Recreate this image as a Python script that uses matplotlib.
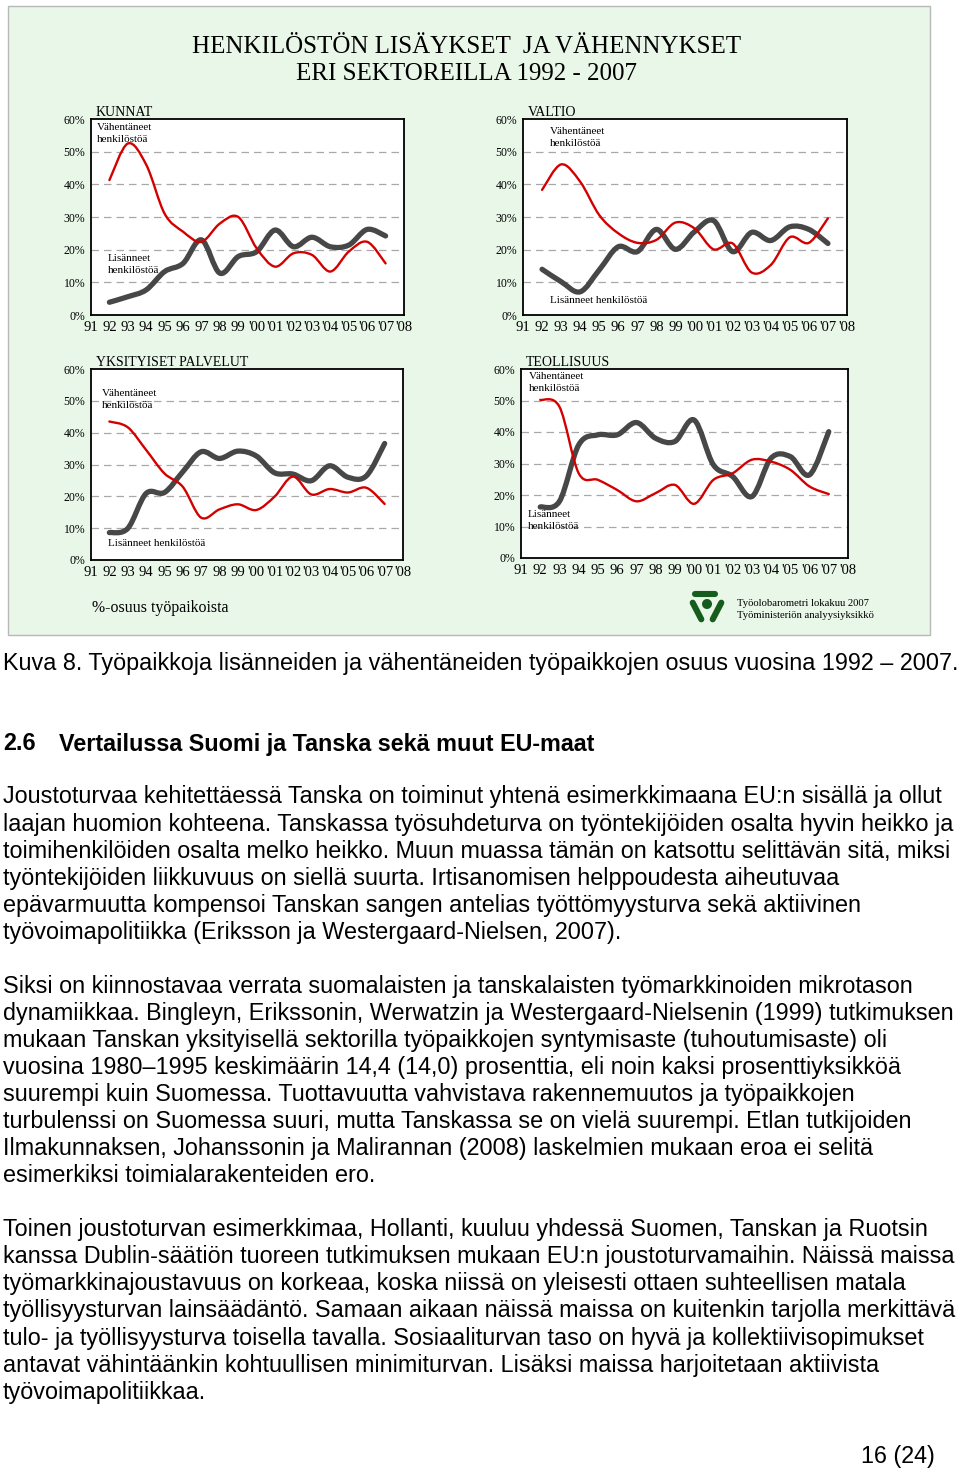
import matplotlib
matplotlib.use("Agg")
import matplotlib.pyplot as plt
from matplotlib.path import Path
from matplotlib.patches import PathPatch, Rectangle, Circle

# ---------------------------------------------------------------------------
# Data (share of workplaces, %)
# ---------------------------------------------------------------------------
years = list(range(1992, 2008))
x_tick_years = list(range(1991, 2009))
x_tick_labels = ["91", "92", "93", "94", "95", "96", "97", "98", "99",
                 "'00", "'01", "'02", "'03", "'04", "'05", "'06", "'07", "'08"]
y_ticks = [0, 10, 20, 30, 40, 50, 60]

kunnat_vahent = [41.3, 52.5, 46.0, 31.0, 25.5, 22.4, 28.0, 30.0,
                 20.4, 14.8, 18.9, 18.4, 13.3, 19.4, 22.4, 15.8]
kunnat_lisann = [3.9, 5.6, 7.7, 13.3, 15.8, 23.0, 12.8, 17.9,
                 19.4, 26.0, 20.9, 23.8, 20.9, 21.4, 26.2, 24.2]

valtio_vahent = [38.3, 46.1, 40.8, 30.6, 25.0, 22.1, 23.0, 28.3,
                 26.5, 20.1, 21.9, 13.0, 15.3, 23.8, 22.1, 29.6]
valtio_lisann = [14.0, 10.2, 7.1, 13.8, 20.9, 19.4, 26.2, 20.1,
                 25.5, 28.9, 19.4, 25.3, 22.8, 27.0, 26.2, 21.9]

yks_vahent = [43.5, 41.7, 34.6, 27.2, 23.0, 13.3, 15.9, 17.5,
              15.7, 19.9, 26.2, 20.6, 22.3, 21.2, 22.7, 17.6]
yks_lisann = [8.6, 9.9, 20.9, 21.2, 27.7, 34.0, 31.9, 34.2,
              32.7, 27.4, 27.0, 24.9, 29.6, 26.0, 26.4, 36.6]

teol_vahent = [50.2, 48.0, 26.9, 24.8, 21.6, 18.0, 20.6, 23.2,
               17.2, 24.8, 26.9, 31.2, 30.6, 28.0, 22.7, 20.3]
teol_lisann = [16.2, 18.0, 35.9, 39.1, 39.1, 43.0, 38.0, 37.0,
               43.8, 29.6, 25.9, 19.5, 31.7, 32.2, 26.4, 40.1]

body_lines = [
    "Joustoturvaa kehitettäessä Tanska on toiminut yhtenä esimerkkimaana EU:n sisällä ja ollut",
    "laajan huomion kohteena. Tanskassa työsuhdeturva on työntekijöiden osalta hyvin heikko ja",
    "toimihenkilöiden osalta melko heikko. Muun muassa tämän on katsottu selittävän sitä, miksi",
    "työntekijöiden liikkuvuus on siellä suurta. Irtisanomisen helppoudesta aiheutuvaa",
    "epävarmuutta kompensoi Tanskan sangen antelias työttömyysturva sekä aktiivinen",
    "työvoimapolitiikka (Eriksson ja Westergaard-Nielsen, 2007).",
    "",
    "Siksi on kiinnostavaa verrata suomalaisten ja tanskalaisten työmarkkinoiden mikrotason",
    "dynamiikkaa. Bingleyn, Erikssonin, Werwatzin ja Westergaard-Nielsenin (1999) tutkimuksen",
    "mukaan Tanskan yksityisellä sektorilla työpaikkojen syntymisaste (tuhoutumisaste) oli",
    "vuosina 1980–1995 keskimäärin 14,4 (14,0) prosenttia, eli noin kaksi prosenttiyksikköä",
    "suurempi kuin Suomessa. Tuottavuutta vahvistava rakennemuutos ja työpaikkojen",
    "turbulenssi on Suomessa suuri, mutta Tanskassa se on vielä suurempi. Etlan tutkijoiden",
    "Ilmakunnaksen, Johanssonin ja Malirannan (2008) laskelmien mukaan eroa ei selitä",
    "esimerkiksi toimialarakenteiden ero.",
    "",
    "Toinen joustoturvan esimerkkimaa, Hollanti, kuuluu yhdessä Suomen, Tanskan ja Ruotsin",
    "kanssa Dublin-säätiön tuoreen tutkimuksen mukaan EU:n joustoturvamaihin. Näissä maissa",
    "työmarkkinajoustavuus on korkeaa, koska niissä on yleisesti ottaen suhteellisen matala",
    "työllisyysturvan lainsäädäntö. Samaan aikaan näissä maissa on kuitenkin tarjolla merkittävä",
    "tulo- ja työllisyysturva toisella tavalla. Sosiaaliturvan taso on hyvä ja kollektiivisopimukset",
    "antavat vähintäänkin kohtuullisen minimiturvan. Lisäksi maissa harjoitetaan aktiivista",
    "työvoimapolitiikkaa.",
]

# ---------------------------------------------------------------------------
# Layout helpers (pixel coordinates from the top-left corner)
# ---------------------------------------------------------------------------
W, H = 960, 1470
SERIF = ["Liberation Serif", "DejaVu Serif"]
SANS = ["Liberation Sans", "DejaVu Sans"]
RED = "#d40000"
GRAY = "#474747"
PANEL = "#e9f7e9"
LOGO = "#165c1c"
BODY_FS = 16.8

fig = plt.figure(figsize=(W / 100, H / 100), dpi=100, facecolor="white")


def fx(x):
    return x / W


def fy(y):
    return 1 - y / H


def ptext(x, y, s, **kw):
    fig.text(fx(x), fy(y), s, **kw)


def smooth_path(xs, ys):
    """Bezier path through the points, like Excel's smoothed line."""
    pts = list(zip(xs, ys))
    verts = [pts[0]]
    codes = [Path.MOVETO]
    n = len(pts)
    for i in range(n - 1):
        p0 = pts[i - 1] if i > 0 else pts[i]
        p1 = pts[i]
        p2 = pts[i + 1]
        p3 = pts[i + 2] if i + 2 < n else pts[i + 1]
        c1 = (p1[0] + (p2[0] - p0[0]) / 6, p1[1] + (p2[1] - p0[1]) / 6)
        c2 = (p2[0] - (p3[0] - p1[0]) / 6, p2[1] - (p3[1] - p1[1]) / 6)
        verts += [c1, c2, p2]
        codes += [Path.CURVE4] * 3
    return Path(verts, codes)


# panel background, kept behind the axes
fig.patches.append(Rectangle((fx(8), fy(635)), fx(930) - fx(8), fy(6) - fy(635),
                             transform=fig.transFigure, facecolor=PANEL,
                             edgecolor="#b8b8b8", lw=1.0, zorder=-5))

ptext(467, 47, "HENKILÖSTÖN LISÄYKSET  JA VÄHENNYKSET", ha="center", va="center",
      fontsize=18, family=SERIF)
ptext(467, 74, "ERI SEKTOREILLA 1992 - 2007", ha="center", va="center",
      fontsize=18, family=SERIF)

panels = [
    # title, box (left, top, right, bottom), reds, grays, label positions
    ("KUNNAT", (91, 119, 404, 315), kunnat_vahent, kunnat_lisann,
     (97, 123, "Vähentäneet\nhenkilöstöä"), (108, 254, "Lisänneet\nhenkilöstöä")),
    ("VALTIO", (523, 119, 847, 315), valtio_vahent, valtio_lisann,
     (550, 127, "Vähentäneet\nhenkilöstöä"), (550, 296, "Lisänneet henkilöstöä")),
    ("YKSITYISET PALVELUT", (91, 369, 403, 560), yks_vahent, yks_lisann,
     (102, 389, "Vähentäneet\nhenkilöstöä"), (108, 539, "Lisänneet henkilöstöä")),
    ("TEOLLISUUS", (521, 369, 848, 558), teol_vahent, teol_lisann,
     (529, 372, "Vähentäneet\nhenkilöstöä"), (528, 510, "Lisänneet\nhenkilöstöä")),
]

for title, (l, t, r, b), reds, grays, lab_v, lab_l in panels:
    ax = fig.add_axes([fx(l), fy(b), fx(r) - fx(l), fy(t) - fy(b)])
    ax.set_facecolor("white")
    ax.set_xlim(1991, 2008)
    ax.set_ylim(0, 60)
    for s in ax.spines.values():
        s.set_color("black")
        s.set_linewidth(1.3)
    for g in y_ticks[1:-1]:
        ax.axhline(g, color="#a8a8a8", lw=0.9, ls=(0, (6, 4)), zorder=1)
    ax.add_patch(PathPatch(smooth_path(years, grays), fill=False, edgecolor=GRAY,
                           lw=3.8, capstyle="round", joinstyle="round", zorder=3))
    ax.add_patch(PathPatch(smooth_path(years, reds), fill=False, edgecolor=RED,
                           lw=1.7, capstyle="round", joinstyle="round", zorder=4))
    ax.set_xticks(x_tick_years)
    ax.set_xticklabels(x_tick_labels, family=SERIF, fontsize=10.5)
    ax.set_yticks(y_ticks)
    ax.set_yticklabels([f"{v}%" for v in y_ticks], family=SERIF, fontsize=8.5)
    ax.tick_params(length=0, pad=4)
    ax.tick_params(axis="x", pad=4)
    ptext(l + 5, t - 3, title, ha="left", va="baseline", fontsize=10, family=SERIF)
    for x, y, s in (lab_v, lab_l):
        ptext(x, y, s, ha="left", va="top", fontsize=8, family=SERIF,
              linespacing=1.45, zorder=6)

ptext(92, 608, "%-osuus työpaikoista", ha="left", va="center", fontsize=11.4, family=SERIF)

# ministry logo: three rounded bars round a dot
lax = fig.add_axes([fx(682), fy(626), fx(732) - fx(682), fy(586) - fy(626)])
lax.set_xlim(0, 50)
lax.set_ylim(40, 0)
lax.axis("off")
lax.plot([12.5, 32.5], [7.5, 7.5], color=LOGO, lw=4.4, solid_capstyle="round")
lax.plot([10.7, 19.3], [16.7, 33.3], color=LOGO, lw=4.4, solid_capstyle="round")
lax.plot([39.3, 30.7], [16.7, 33.3], color=LOGO, lw=4.4, solid_capstyle="round")
lax.add_patch(Circle((25, 18), 4.3, color=LOGO))

ptext(737, 603, "Työolobarometri lokakuu 2007", ha="left", va="center",
      fontsize=7.7, family=SERIF)
ptext(737, 615, "Työministeriön analyysiyksikkö", ha="left", va="center",
      fontsize=7.7, family=SERIF)

# document text below the figure
ptext(3, 663, "Kuva 8. Työpaikkoja lisänneiden ja vähentäneiden työpaikkojen osuus vuosina 1992 – 2007.",
      ha="left", va="center", fontsize=BODY_FS, family=SANS)
ptext(3, 744, "2.6", ha="left", va="center", fontsize=BODY_FS, family=SANS, weight="bold")
ptext(59, 744, "Vertailussa Suomi ja Tanska sekä muut EU-maat", ha="left", va="center",
      fontsize=BODY_FS, family=SANS, weight="bold")

for k, line in enumerate(body_lines):
    if line:
        ptext(3, 797 + 27.05 * k, line, ha="left", va="center", fontsize=BODY_FS, family=SANS)

ptext(935, 1456, "16 (24)", ha="right", va="center", fontsize=BODY_FS, family=SANS)

fig.savefig("out.png", dpi=100, facecolor="white")
